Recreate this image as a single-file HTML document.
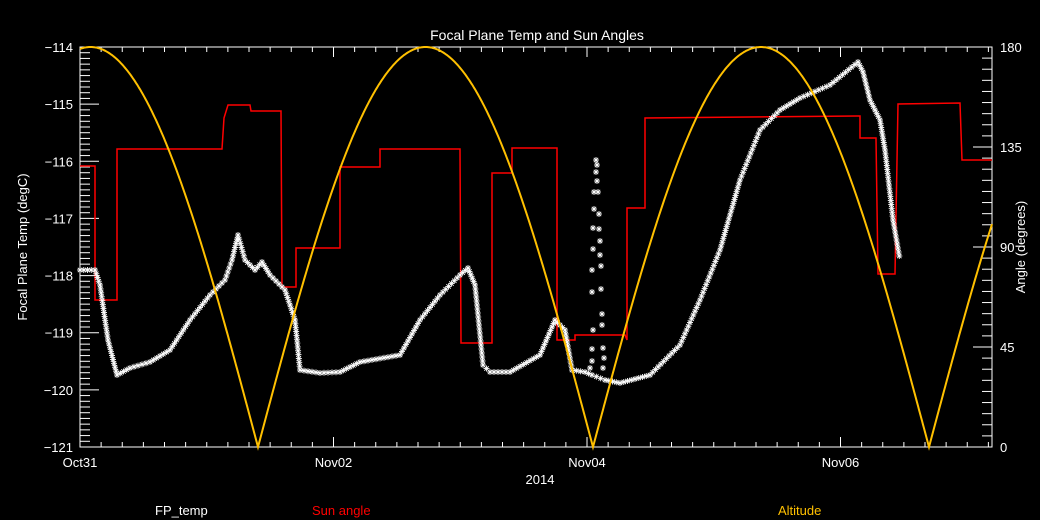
<!DOCTYPE html>
<html><head><meta charset="utf-8"><style>
html,body{margin:0;padding:0;background:#000;}
svg{display:block;font-family:"Liberation Sans",sans-serif;}
text{font-size:13px;}
</style></head><body>
<svg id="s" width="1040" height="520" xmlns="http://www.w3.org/2000/svg">
<rect width="1040" height="520" fill="#000"/>
<text x="537" y="40" fill="#fff" text-anchor="middle" style="font-size:14px">Focal Plane Temp and Sun Angles</text>
<g id="ax" stroke="#fff" stroke-width="1" fill="none"></g>
<g id="lbl" fill="#fff"></g>
<text transform="translate(27,247) rotate(-90)" fill="#fff" text-anchor="middle">Focal Plane Temp (degC)</text>
<text transform="translate(1025,247) rotate(-90)" fill="#fff" text-anchor="middle">Angle (degrees)</text>
<text x="540" y="484" fill="#fff" text-anchor="middle">2014</text>
<text x="155" y="515" fill="#fff">FP_temp</text>
<text x="312" y="515" fill="#f00">Sun angle</text>
<text x="778" y="515" fill="#ffc000">Altitude</text>
<polyline id="red" fill="none" stroke="#f00" stroke-width="1.5"/>
<g id="wh" stroke="#fff" stroke-width="0.9"></g>
<polyline id="alt" fill="none" stroke="#ffc000" stroke-width="2"/>
</svg>
<script>
const NS="http://www.w3.org/2000/svg";
const L=80,R=992,T=47,B=447;
const ax=document.getElementById('ax'),lbl=document.getElementById('lbl');
function ln(x1,y1,x2,y2,p){const e=document.createElementNS(NS,'line');e.setAttribute('x1',x1);e.setAttribute('y1',y1);e.setAttribute('x2',x2);e.setAttribute('y2',y2);(p||ax).appendChild(e);}
function tx(x,y,s,a){const e=document.createElementNS(NS,'text');e.setAttribute('x',x);e.setAttribute('y',y);e.setAttribute('text-anchor',a);e.textContent=s;lbl.appendChild(e);}
const r=document.createElementNS(NS,'rect');r.setAttribute('x',L);r.setAttribute('y',T);r.setAttribute('width',R-L);r.setAttribute('height',B-T);ax.appendChild(r);
for(let i=0;i<=70;i++){const y=T+i*400/70;const maj=i%10==0;ln(L,y,L+(maj?19:10),y);if(maj)tx(73,y+5,"\u2212"+(114+i/10),"end");}
for(let i=0;i<=36;i++){const y=B-i*400/36;const maj=i%9==0;ln(R,y,R-(maj?19:10),y);if(maj)tx(1000,y+5,String(i*5),"start");}
const dpx=126.75;
for(let i=0;i*dpx/6+L<=R+1;i++){const x=L+i*dpx/6;const maj=i%12==0;ln(x,B,x,B-(maj?10:5));ln(x,T,x,T+(maj?10:5));}
["Oct31","Nov02","Nov04","Nov06"].forEach((s,i)=>tx(L+i*2*dpx,467,s,"middle"));
let pts=[];const z=[-77,258,593,929,1264];
for(let x=L;x<=R;x++){let k=0;while(x>z[k+1])k++;const v=180*Math.abs(Math.sin(Math.PI*(x-z[k])/(z[k+1]-z[k])));pts.push(x+","+(B-v*400/180).toFixed(1));}
document.getElementById('alt').setAttribute('points',pts.join(" "));
const rs=[[80,166],[95,166],[95,300],[117,300],[117,149],[222,149],[224,118],[228,105],[250,105],[251,111],[281,111],[282,287],[296,287],[296,248],[340,248],[340,167],[380,167],[380,149],[460,149],[461,343],[492,343],[492,173],[512,173],[512,148],[557,148],[557,340],[575,340],[575,335],[625,335],[627,340],[627,208],[645,208],[645,118],[857,116],[860,116],[860,138],[876,138],[878,274],[895,274],[898,104],[960,103],[962,160],[992,160]];
document.getElementById('red').setAttribute('points',rs.map(p=>p.join(",")).join(" "));
const wp=[[80,270],[95,270],[100,285],[108,340],[117,375],[130,368],[150,362],[170,350],[190,320],[210,295],[225,280],[232,260],[238,235],[245,260],[255,270],[262,262],[270,275],[285,290],[295,320],[300,370],[320,373],[340,372],[360,362],[400,355],[420,320],[440,295],[460,275],[468,268],[475,285],[483,365],[490,372],[510,372],[540,355],[555,320],[565,330],[572,370],[585,372],[592,375],[605,380],[620,383],[650,375],[680,345],[700,300],[720,250],[740,180],[760,130],[780,110],[800,98],[830,85],[858,62],[863,72],[870,100],[880,120],[885,150],[893,220],[900,260]];
const wh=document.getElementById('wh');
function star(x,y){const s=3;ln(x-s,y,x+s,y,wh);ln(x,y-s,x,y+s,wh);ln(x-2.2,y-2.2,x+2.2,y+2.2,wh);ln(x-2.2,y+2.2,x+2.2,y-2.2,wh);}
for(let i=0;i<wp.length-1;i++){const[a,b]=wp[i],[c,d]=wp[i+1];const len=Math.hypot(c-a,d-b);const n=Math.max(1,Math.round(len/4));for(let j=0;j<n;j++)star(a+(c-a)*j/n,b+(d-b)*j/n);}
[[596,160],[597,165],[596,172],[597,181],[594,192],[598,192],[594,209],[599,214],[593,228],[599,229],[600,241],[593,249],[600,255],[592,270],[601,266],[592,292],[601,289],[593,330],[602,314],[592,349],[602,325],[592,361],[603,348],[604,358],[603,368],[590,368]].forEach(p=>star(p[0],p[1]));
</script>
</body></html>
